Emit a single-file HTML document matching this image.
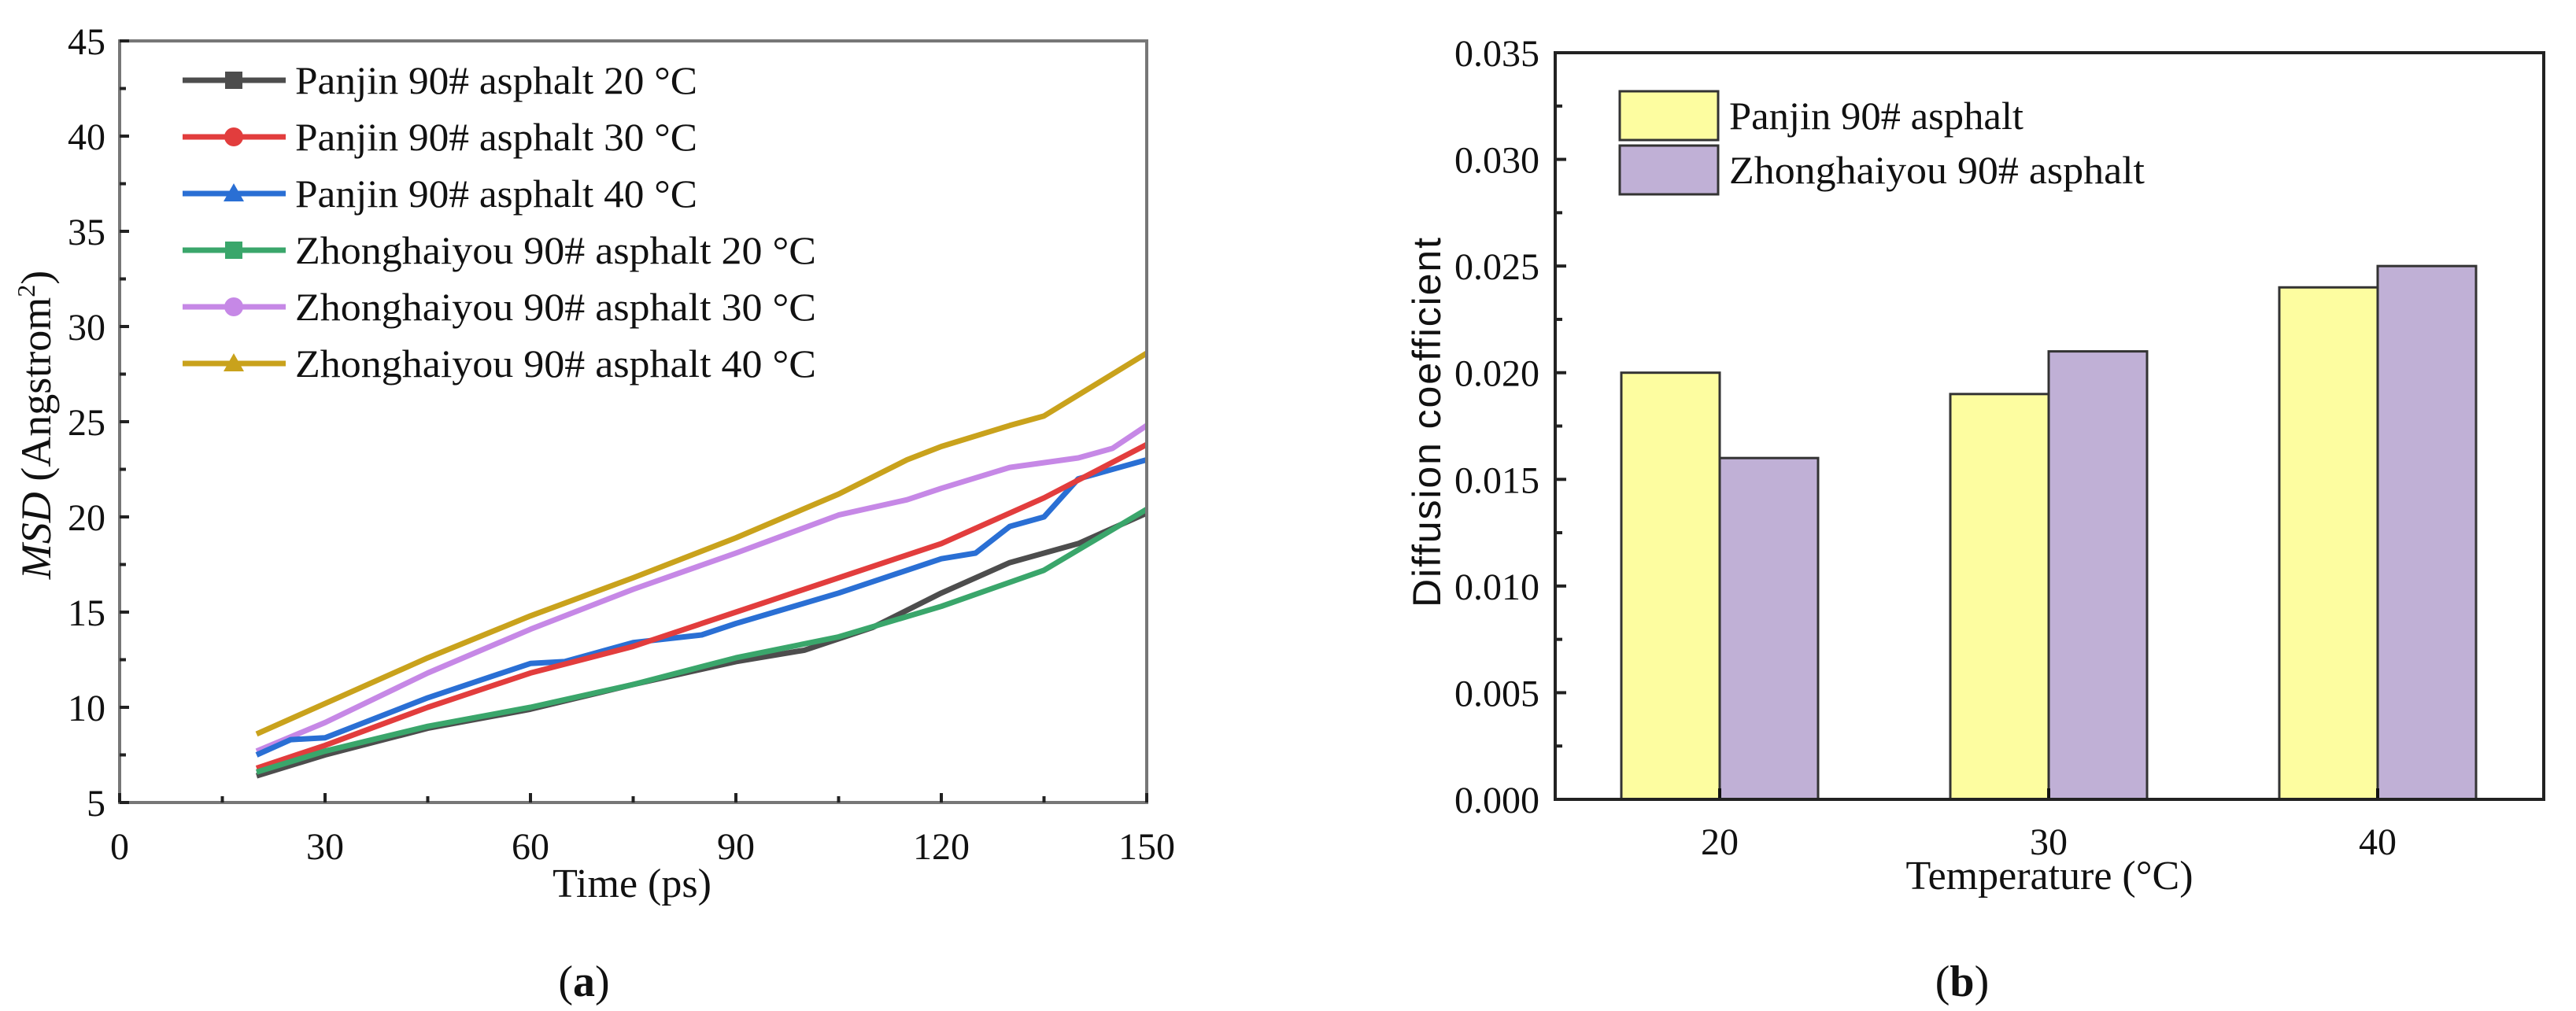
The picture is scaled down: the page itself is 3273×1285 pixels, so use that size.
<!DOCTYPE html>
<html><head><meta charset="utf-8">
<style>
html,body{margin:0;padding:0;background:#fff;}
svg{display:block;}
text{font-family:"Liberation Serif",serif;fill:#111;}
</style></head>
<body>
<svg id="fig" width="3273" height="1285" viewBox="0 0 3273 1285" xmlns="http://www.w3.org/2000/svg">
<g id="chartA"></g>
<g id="chartB"></g>
</svg>
<script>
// ---- Chart (a) data ----
const seriesNames = ["Panjin 90# asphalt 20 °C","Panjin 90# asphalt 30 °C","Panjin 90# asphalt 40 °C","Zhonghaiyou 90# asphalt 20 °C","Zhonghaiyou 90# asphalt 30 °C","Zhonghaiyou 90# asphalt 40 °C"];
const seriesColors = ["#4d4d4d","#e23d3d","#2a6fd4","#3aa66b","#c688e6","#c9a21c"];
const seriesMarkers = ["square","circle","triangle","square","circle","triangle"];
const p20x = [20,30,45,60,75,90,100,110,120,130,140,150];
const p20y = [6.4,7.5,8.9,9.9,11.2,12.4,13.0,14.2,16.0,17.6,18.6,20.2];
const p30x = [20,30,45,60,75,90,105,120,135,150];
const p30y = [6.8,8.0,10.0,11.8,13.2,15.0,16.8,18.6,21.0,23.8];
const p40x = [20,25,30,45,60,65,75,85,90,105,120,125,130,135,140,150];
const p40y = [7.5,8.3,8.4,10.5,12.3,12.4,13.4,13.8,14.4,16.0,17.8,18.1,19.5,20.0,22.0,23.0];
const z20x = [20,30,45,60,75,90,105,120,135,150];
const z20y = [6.6,7.7,9.0,10.0,11.2,12.6,13.7,15.3,17.2,20.4];
const z30x = [20,30,45,60,75,90,105,115,120,130,140,145,150];
const z30y = [7.7,9.2,11.8,14.1,16.2,18.1,20.1,20.9,21.5,22.6,23.1,23.6,24.8];
const z40x = [20,30,45,60,75,90,105,115,120,130,135,150];
const z40y = [8.6,10.2,12.6,14.8,16.8,18.9,21.2,23.0,23.7,24.8,25.3,28.6];
const aXTicks = [0,30,60,90,120,150];
const aYTicks = [5,10,15,20,25,30,35,40,45];

// ---- Chart (b) data ----
const bCategories = ["20","30","40"];
const bPanjin = [0.020,0.019,0.024];
const bZhong = [0.016,0.021,0.025];
const bYTicks = ["0.000","0.005","0.010","0.015","0.020","0.025","0.030","0.035"];
const bLegend = ["Panjin 90# asphalt","Zhonghaiyou 90# asphalt"];

const NS="http://www.w3.org/2000/svg";
function mk(tag,attrs,parent){const e=document.createElementNS(NS,tag);for(const k in attrs)e.setAttribute(k,attrs[k]);parent.appendChild(e);return e;}

// ===== Chart A =====
const A=document.getElementById('chartA');
const aL=152,aR=1457,aT=52,aB=1020;
const ax=v=>aL+(v-0)/150*(aR-aL);
const ay=v=>aB-(v-5)/40*(aB-aT);
const allX=[p20x,p30x,p40x,z20x,z30x,z40x], allY=[p20y,p30y,p40y,z20y,z30y,z40y];
const order=[4,5,2,1,0,3];
order.forEach(i=>{
  const pts=allX[i].map((x,j)=>ax(x).toFixed(1)+","+ay(allY[i][j]).toFixed(1)).join(" ");
  const pl=mk('polyline',{points:pts,fill:'none',stroke:seriesColors[i],'stroke-width':7,'stroke-linejoin':'round'},A);
  
  
});
const boxA=mk('rect',{x:aL,y:aT,width:aR-aL,height:aB-aT,fill:'none',stroke:'#777','stroke-width':4},A);


for(let v=0;v<=150;v+=15){
  const major=v%30===0; const len=major?12:8;
  mk('line',{x1:ax(v),x2:ax(v),y1:aB,y2:aB-len,stroke:'#222','stroke-width':4},A);
}
aXTicks.forEach(v=>{
  const t=mk('text',{x:ax(v),y:aB+72,'font-size':48,'text-anchor':'middle'},A);
  t.textContent=v;
  
  
});
for(let v=5;v<=45;v+=2.5){
  const major=(v%5===0); const len=major?12:8;
  mk('line',{x1:aL,x2:aL+len,y1:ay(v),y2:ay(v),stroke:'#222','stroke-width':4},A);
}
aYTicks.forEach(v=>{
  const t=mk('text',{x:134,y:ay(v)+17,'font-size':48,'text-anchor':'end'},A);
  t.textContent=v;
  
  
});
const xtA=mk('text',{x:803,y:1140,'font-size':52,'text-anchor':'middle'},A);
xtA.textContent="Time (ps)";


const ytA=mk('text',{x:0,y:0,'font-size':54,'text-anchor':'middle',transform:'translate(64,540) rotate(-90)'},A);
ytA.innerHTML='<tspan font-style="italic">MSD</tspan> (Angstrom<tspan font-size="32" dy="-20">2</tspan><tspan dy="20">)</tspan>';


function marker(type,cx,cy,col,parent){
  if(type==='square') return mk('rect',{x:cx-11,y:cy-11,width:22,height:22,fill:col},parent);
  if(type==='circle') return mk('circle',{cx:cx,cy:cy,r:12,fill:col},parent);
  return mk('polygon',{points:`${cx},${cy-13} ${cx+13},${cy+10} ${cx-13},${cy+10}`,fill:col},parent);
}
seriesNames.forEach((n,i)=>{
  const y=102+i*72;
  const g=mk('g',{},A);
  
  
  mk('line',{x1:232,x2:363,y1:y,y2:y,stroke:seriesColors[i],'stroke-width':7},g);
  marker(seriesMarkers[i],297,y,seriesColors[i],g);
  const t=mk('text',{x:375,y:y+17,'font-size':50,textLength:(i<3?511:662),lengthAdjust:'spacingAndGlyphs'},g);
  t.textContent=n;
});
const capA=mk('text',{x:742,y:1266,'font-size':56,'text-anchor':'middle'},A);
capA.innerHTML='(<tspan font-weight="bold">a</tspan>)';



// ===== Chart B =====
const B=document.getElementById('chartB');
const bL=1976,bR=3232,bT=67,bB=1016;
const by=v=>bB-v/0.035*(bB-bT);
const bxc=i=>2185+i*418;
const bw=125;
bCategories.forEach((c,i)=>{
  const r1=mk('rect',{x:bxc(i)-bw,y:by(bPanjin[i]),width:bw,height:bB-by(bPanjin[i]),fill:'#fdfda0',stroke:'#333','stroke-width':3},B);
  
  
  const r2=mk('rect',{x:bxc(i),y:by(bZhong[i]),width:bw,height:bB-by(bZhong[i]),fill:'#c0b0d6',stroke:'#333','stroke-width':3},B);
  
  
  mk('line',{x1:bxc(i),x2:bxc(i),y1:bB,y2:bB-14,stroke:'#111','stroke-width':4},B);
  const t=mk('text',{x:bxc(i),y:bB+70,'font-size':48,'text-anchor':'middle'},B);
  t.textContent=c;
  
  
});
const boxB=mk('rect',{x:bL,y:bT,width:bR-bL,height:bB-bT,fill:'none',stroke:'#222','stroke-width':4},B);


for(let k=0;k<=14;k++){
  const v=k*0.0025; const len=(k%2===0)?14:9;
  mk('line',{x1:bL,x2:bL+len,y1:by(v),y2:by(v),stroke:'#222','stroke-width':4},B);
}
bYTicks.forEach(s=>{
  const t=mk('text',{x:1956,y:by(parseFloat(s))+17,'font-size':48,'text-anchor':'end'},B);
  t.textContent=s;
  
  
});
const xtB=mk('text',{x:2604,y:1130,'font-size':52,'text-anchor':'middle'},B);
xtB.textContent="Temperature (°C)";


const ytB=mk('text',{x:0,y:0,'font-size':50,'text-anchor':'middle',textLength:470,transform:'translate(1830,537) rotate(-90)',style:'font-family:"Liberation Sans",sans-serif'},B);
ytB.textContent="Diffusion coefficient";


const legFill=['#fdfda0','#c0b0d6'];
const legLen=[374,528];
bLegend.forEach((n,i)=>{
  const y0=116+i*69;
  const g=mk('g',{},B);
  
  
  mk('rect',{x:2058,y:y0,width:125,height:62,fill:legFill[i],stroke:'#333','stroke-width':3},g);
  const t=mk('text',{x:2197,y:y0+48,'font-size':50,textLength:legLen[i],lengthAdjust:'spacingAndGlyphs'},g);
  t.textContent=n;
});
const capB=mk('text',{x:2493,y:1266,'font-size':56,'text-anchor':'middle'},B);
capB.innerHTML='(<tspan font-weight="bold">b</tspan>)';


</script>
</body></html>
